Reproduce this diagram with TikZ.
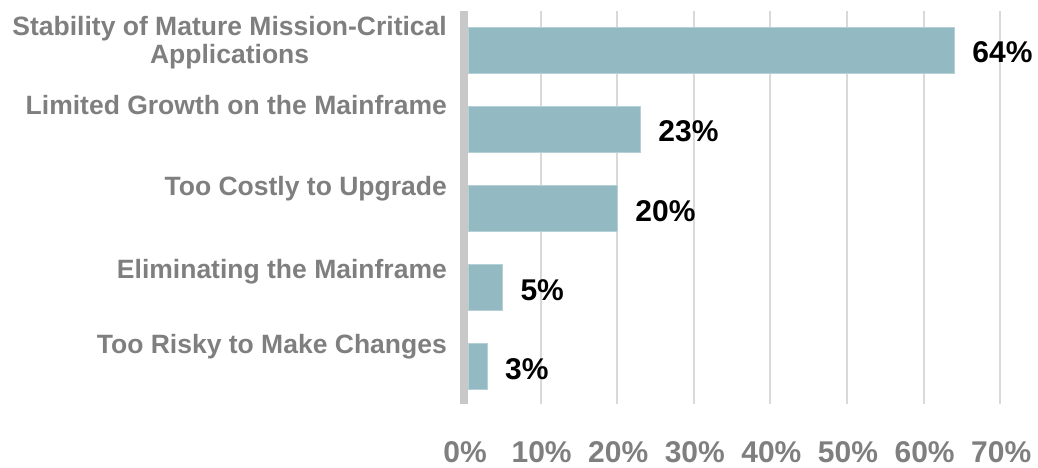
\documentclass[tikz,border=0pt]{standalone}
\usepackage{fontspec}
\setmainfont{Liberation Sans}
\definecolor{labgray}{HTML}{7F7F7F}
\definecolor{gridgray}{HTML}{D9D9D9}
\definecolor{axisgray}{HTML}{C8C8C8}
\definecolor{barfill}{HTML}{93BAC2}
\definecolor{baredge}{HTML}{B5D0D6}
\begin{document}
\begin{tikzpicture}[x=1pt,y=-1pt,
  catlabel/.style={inner sep=0pt,anchor=base east,text=labgray,font=\bfseries\fontsize{26.5}{28}\selectfont,align=center},
  vallabel/.style={inner sep=0pt,anchor=base west,text=black,font=\bfseries\fontsize{30}{32}\selectfont},
  ticklabel/.style={inner sep=0pt,anchor=base,text=labgray,font=\bfseries\fontsize{30}{32}\selectfont},
  gridline/.style={draw=gridgray,line width=2pt},
  bar/.style={fill=barfill,draw=baredge,line width=0.8pt}]
\useasboundingbox (0,0) rectangle (1038,468);
% gridlines and tick labels
\foreach \k in {1,...,7} {
  \coordinate (gt\k) at (464+76.6*\k,11);
  \coordinate (gb\k) at (464+76.6*\k,404);
  \draw[gridline] (gt\k) -- (gb\k);
}
\foreach \k in {0,...,7} {
  \pgfmathtruncatemacro{\pc}{10*\k}
  \node[ticklabel] (tick\k) at (465+76.6*\k,462) {\pc\%};
}
% axis
\coordinate (at) at (464,11);
\coordinate (ab) at (464,404);
\draw[draw=axisgray,line width=7.5pt] (at) -- (ab);
% bars
\foreach \v/\c/\n in {64/50/1,23/129/2,20/208/3,5/287/4,3/366/5} {
  \draw[bar] (468,\c-23) rectangle (464+7.66*\v,\c+23);
  \node[vallabel] (val\n) at (464+7.66*\v+18,\c+13) {\v\%};
}
% category labels
\node[catlabel] (cat1) at (447,64) {Stability of Mature Mission-Critical\\Applications};
\node[catlabel] (cat2) at (447,115) {Limited Growth on the Mainframe};
\node[catlabel] (cat3) at (447,195) {Too Costly to Upgrade};
\node[catlabel] (cat4) at (447,278) {Eliminating the Mainframe};
\node[catlabel] (cat5) at (447,353) {Too Risky to Make Changes};
\end{tikzpicture}
\end{document}
